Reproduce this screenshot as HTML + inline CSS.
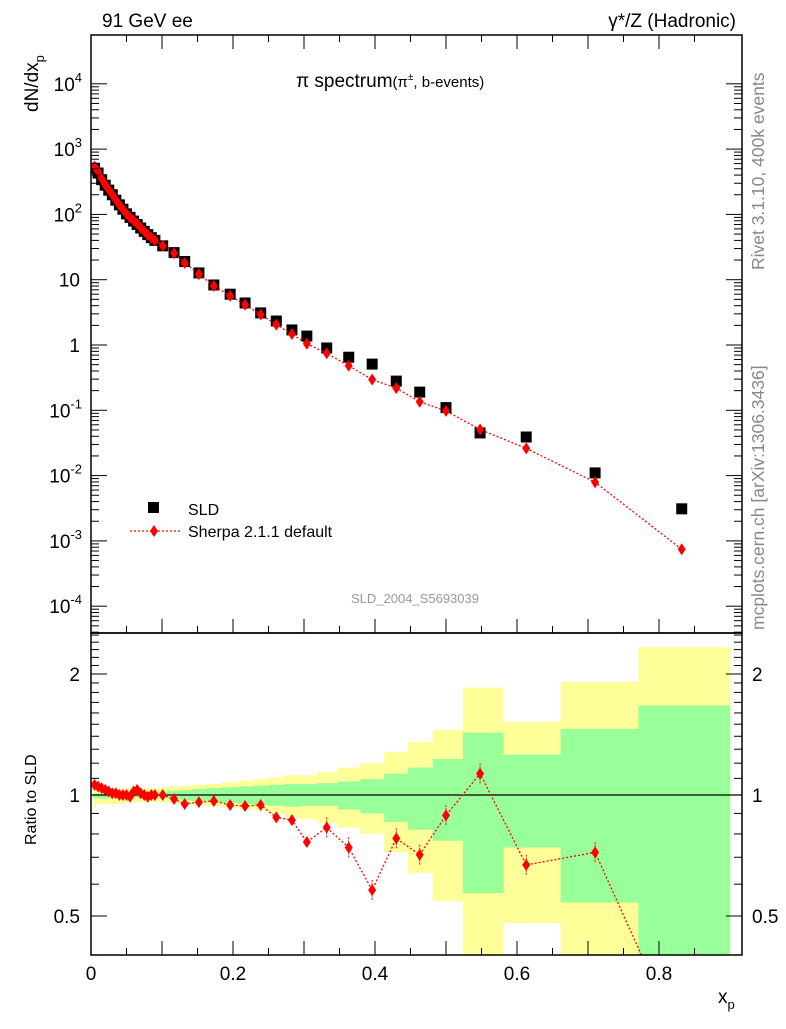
<!DOCTYPE html>
<html><head><meta charset="utf-8"><style>
body{margin:0;background:#fff}
svg text{font-family:"Liberation Sans",sans-serif}
</style></head><body>
<svg id="c" width="786" height="1024" viewBox="0 0 786 1024"></svg>
<script>
const xs=[0.005,0.01,0.015,0.02,0.025,0.03,0.035,0.04,0.045,0.05,0.055,0.06,0.065,0.07,0.075,0.08,0.085,0.09,0.101,0.117,0.132,0.152,0.173,0.196,0.217,0.239,0.261,0.283,0.304,0.332,0.363,0.396,0.43,0.463,0.5,0.548,0.613,0.71,0.832];
const sld=[510,430,340,280,235,200,165,140,120,102,90,79,70,62,55,49,44,40,33,26,19,12.7,8.3,6.0,4.4,3.1,2.33,1.7,1.37,0.9,0.65,0.51,0.28,0.19,0.11,0.045,0.039,0.011,0.0031];
const ratio=[1.06,1.05,1.04,1.03,1.02,1.01,1.01,1.0,1.0,1.0,0.99,1.02,1.03,1.01,1.0,0.99,1.0,1.0,1.0,0.977,0.95,0.96,0.966,0.944,0.939,0.944,0.88,0.866,0.764,0.83,0.74,0.58,0.78,0.71,0.89,1.13,0.67,0.72,0.24];
const totUp=[1.035,1.035,1.035,1.035,1.035,1.035,1.035,1.035,1.035,1.04,1.04,1.04,1.04,1.04,1.04,1.04,1.04,1.04,1.045,1.05,1.055,1.06,1.065,1.075,1.085,1.095,1.105,1.12,1.12,1.14,1.17,1.2,1.28,1.355,1.45,1.85,1.52,1.91,2.33];
const totDn=[0.93,0.95,0.95,0.95,0.95,0.95,0.95,0.95,0.95,0.96,0.96,0.96,0.96,0.96,0.96,0.96,0.96,0.96,0.96,0.955,0.95,0.945,0.94,0.93,0.925,0.915,0.9,0.88,0.87,0.85,0.83,0.8,0.72,0.64,0.545,0.3,0.48,0.3,0.3];
const statUp=[1.01,1.01,1.01,1.01,1.01,1.01,1.01,1.01,1.01,1.015,1.015,1.015,1.015,1.015,1.015,1.015,1.015,1.015,1.02,1.025,1.03,1.035,1.04,1.045,1.05,1.055,1.06,1.065,1.065,1.07,1.08,1.095,1.13,1.17,1.23,1.43,1.26,1.46,1.67];
const statDn=[0.98,0.98,0.98,0.98,0.98,0.98,0.98,0.98,0.98,0.985,0.985,0.985,0.985,0.985,0.985,0.985,0.985,0.985,0.98,0.975,0.97,0.965,0.96,0.955,0.95,0.945,0.94,0.935,0.94,0.94,0.92,0.9,0.857,0.82,0.77,0.57,0.74,0.54,0.3];
const xTicks=[0,0.2,0.4,0.6,0.8];
const mainTicks=[-4,-3,-2,-1,0,1,2,3,4];
const ratioTicks=[0.5,1,2];

const S=document.getElementById('c');const NS='http://www.w3.org/2000/svg';
function el(t,a,p){const e=document.createElementNS(NS,t);for(const k in a)e.setAttribute(k,a[k]);(p||S).appendChild(e);return e;}
const L=91,R=742,T=35,M=633,B=955;
const X=v=>L+v*710;
const Y=v=>345-Math.log10(v)*65.3;
const YR=v=>795-Math.log2(v)*121;
const defs=el('defs',{});const cp=el('clipPath',{id:'rc'},defs);el('rect',{x:L,y:M,width:R-L,height:B-M},cp);
const cp2=el('clipPath',{id:'mc'},defs);el('rect',{x:L,y:T,width:R-L,height:M-T},cp2);
const gb=el('g',{'clip-path':'url(#rc)'});

function edge(i){if(i<=0)return 0.003;if(i>=xs.length)return 0.9;return (xs[i-1]+xs[i])/2;}
for(let i=0;i<xs.length;i++){const x0=X(edge(i)),x1=X(edge(i+1));
 const y=el('rect',{x:x0,y:YR(totUp[i]),width:x1-x0+0.3,height:YR(totDn[i])-YR(totUp[i]),fill:'#ffff99'},gb);
 }
for(let i=0;i<xs.length;i++){const x0=X(edge(i)),x1=X(edge(i+1));
 const g=el('rect',{x:x0,y:YR(statUp[i]),width:x1-x0+0.3,height:YR(statDn[i])-YR(statUp[i]),fill:'#99ff99'},gb);
 }
el('line',{x1:L,x2:R,y1:YR(1),y2:YR(1),stroke:'#000','stroke-width':1.2});
const gm=el('g',{'clip-path':'url(#mc)'});
for(let i=0;i<xs.length;i++){const s=el('rect',{x:X(xs[i])-5.5,y:Y(sld[i])-5.5,width:11,height:11,fill:'#000'},gm);
 }
const pts=xs.map((x,i)=>[X(x),Y(sld[i]*ratio[i])]);
el('polyline',{points:pts.map(p=>p.join(',')).join(' '),fill:'none',stroke:'#f00','stroke-width':1.3,'stroke-dasharray':'2,2'},gm);
for(const p of pts){const d=el('path',{d:`M${p[0]},${p[1]-6}L${p[0]+4},${p[1]}L${p[0]},${p[1]+6}L${p[0]-4},${p[1]}Z`,fill:'#f00'},gm);
 }
const gr=el('g',{'clip-path':'url(#rc)'});
const rp=xs.map((x,i)=>[X(x),YR(ratio[i])]);
el('polyline',{points:rp.map(p=>p.join(',')).join(' '),fill:'none',stroke:'#f00','stroke-width':1.3,'stroke-dasharray':'2,2'},gr);
rp.forEach((p,i)=>{if(i>28)el('line',{x1:p[0],x2:p[0],y1:YR(ratio[i]*1.06),y2:YR(ratio[i]/1.06),stroke:'#f00','stroke-width':1,'stroke-dasharray':'2,1'},gr);
 const d=el('path',{d:`M${p[0]},${p[1]-6}L${p[0]+4},${p[1]}L${p[0]},${p[1]+6}L${p[0]-4},${p[1]}Z`,fill:'#f00'},gr);
 });
el('rect',{x:L,y:T,width:R-L,height:M-T,fill:'none',stroke:'#000','stroke-width':1.5});
el('rect',{x:L,y:M,width:R-L,height:B-M,fill:'none',stroke:'#000','stroke-width':1.5});
function txt(s,x,y,o){const t=el('text',Object.assign({x:x,y:y,'font-size':19},o||{}));t.innerHTML=s;return t;}
for(let v=0;v<=0.9;v+=0.05){const big=Math.round(v*100)%10===0;const l=big?14:7;
 for(const [y0,dir] of [[M,-1],[T,1],[B,-1]]){el('line',{x1:X(v),x2:X(v),y1:y0,y2:y0+dir*l,stroke:'#000'});}}
xTicks.forEach(v=>{const t=txt(String(v),X(v),980,{'text-anchor':'middle'});});
mainTicks.forEach(e=>{const y=Y(Math.pow(10,e));
 el('line',{x1:L,x2:L+16,y1:y,y2:y,stroke:'#000'});el('line',{x1:R,x2:R-16,y1:y,y2:y,stroke:'#000'});
 for(let m=2;m<10&&e<4;m++){const ym=Y(m*Math.pow(10,e));el('line',{x1:L,x2:L+8,y1:ym,y2:ym,stroke:'#000'});el('line',{x1:R,x2:R-8,y1:ym,y2:ym,stroke:'#000'});}
 let t;
 if(e===0)t=txt('1',80,y+7,{'text-anchor':'end'});
 else if(e===1)t=txt('10',80,y+7,{'text-anchor':'end'});
 else t=txt(`10<tspan dy="-9" font-size="13">${e}</tspan>`,82,y+7,{'text-anchor':'end'});
 });
for(let m=2;m<10;m++){const ym=Y(m*1e-5);if(ym<M){el('line',{x1:L,x2:L+8,y1:ym,y2:ym,stroke:'#000'});el('line',{x1:R,x2:R-8,y1:ym,y2:ym,stroke:'#000'});}}
[0.4,0.5,0.6,0.7,0.8,0.9,1,1.1,1.2,1.3,1.4,1.5,1.6,1.7,1.8,1.9,2,2.1,2.2,2.3,2.4,2.5].forEach(v=>{const y=YR(v);const big=[0.5,1,2].includes(v);const l=big?16:8;
 el('line',{x1:L,x2:L+l,y1:y,y2:y,stroke:'#000'});el('line',{x1:R,x2:R-l,y1:y,y2:y,stroke:'#000'});});
ratioTicks.forEach(v=>{const a=txt(String(v),80,YR(v)+7,{'text-anchor':'end'});
 const b=txt(String(v),752,YR(v)+7);});
let t;
t=txt('91 GeV ee',102,27);
t=txt('γ*/Z (Hadronic)',736,27,{'text-anchor':'end'});
t=txt('π spectrum<tspan font-size="15">(π<tspan dy="-7" font-size="10">±</tspan><tspan dy="7">, b-events)</tspan></tspan>',296,87);
t=txt('dN/dx<tspan dy="6" font-size="13">p</tspan>',0,0,{transform:'translate(38,112) rotate(-90)'});
t=txt('Ratio to SLD',0,0,{transform:'translate(36,845) rotate(-90)','font-size':16});
t=txt('x<tspan dy="6" font-size="13">p</tspan>',718,1003);
t=txt('Rivet 3.1.10,  400k events',0,0,{transform:'translate(764,270) rotate(-90)','font-size':17.5,fill:'#888','xml:space':'preserve'});
t=txt('mcplots.cern.ch [arXiv:1306.3436]',0,0,{transform:'translate(764,630) rotate(-90)','font-size':17.5,fill:'#888'});
t=txt('SLD_2004_S5693039',415,603,{'text-anchor':'middle','font-size':13,fill:'#999'});
const lg=el('g',{});
el('rect',{x:148,y:502,width:11,height:11,fill:'#000'},lg);
txt('SLD',188,515,{'font-size':16},lg);
el('line',{x1:130,x2:180,y1:531,y2:531,stroke:'#f00','stroke-width':1.3,'stroke-dasharray':'2,2'},lg);
el('path',{d:'M154,525L158,531L154,537L150,531Z',fill:'#f00'},lg);
txt('Sherpa 2.1.1 default',188,537,{'font-size':16},lg);
</script>
</body></html>
